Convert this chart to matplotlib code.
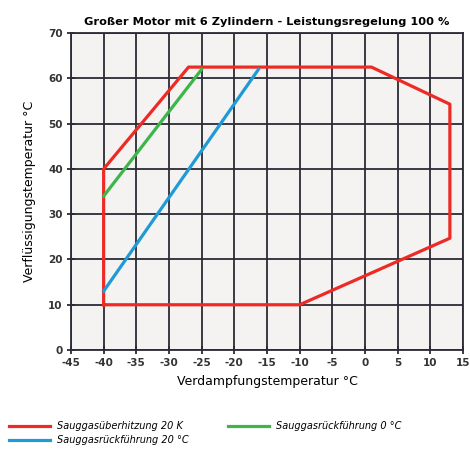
import matplotlib.pyplot as plt

# Einsatzgrenzen (Verdampfung, Verflüssigung) in °C
sh20_x = [-40, -40, -27, 1, 13, 13, -10, -40]
sh20_y = [10, 40, 62.5, 62.5, 54.3, 24.7, 10, 10]
rg0_x = [-40, -25]
rg0_y = [34, 62]
rg20_x = [-40, -16.3]
rg20_y = [13, 62]

xticks = list(range(-45, 16, 5))
yticks = list(range(0, 71, 10))

plt.rcParams['font.family'] = ['DejaVu Sans']
plt.rcParams['axes.unicode_minus'] = False

fig = plt.figure(figsize=(4.7, 4.54), dpi=100)
ax = fig.add_axes([0.151, 0.229, 0.834, 0.698])
ax.set_facecolor('#f4f3f2')

ax.plot(sh20_x, sh20_y, color='#ee2a24', lw=2.3, label='Sauggasüberhitzung 20 K', zorder=3)
ax.plot(rg20_x, rg20_y, color='#1f9ad6', lw=2.3, label='Sauggasrückführung 20 °C', zorder=3)
ax.plot(rg0_x, rg0_y, color='#3db54a', lw=2.3, label='Sauggasrückführung 0 °C', zorder=3)

ax.set_xlim(-45, 15)
ax.set_ylim(0, 70)
ax.set_xticks(xticks)
ax.set_yticks(yticks)
ax.grid(True, color='#2b2b35', lw=1.3)
for s in ax.spines.values():
    s.set_color('#2b2b35')
    s.set_linewidth(1.3)
ax.tick_params(direction='inout', length=6, width=1.3, color='#2b2b35',
               labelsize=7.5, pad=3)
for lab in ax.get_xticklabels() + ax.get_yticklabels():
    lab.set_fontweight('bold')
    lab.set_color('#333333')

ax.set_title('Großer Motor mit 6 Zylindern - Leistungsregelung 100 %',
             fontsize=8.2, fontweight='bold', pad=6)
ax.set_xlabel('Verdampfungstemperatur °C', fontsize=9, labelpad=5)
ax.set_ylabel('Verflüssigungstemperatur °C', fontsize=9, labelpad=9)

fig.legend(loc='lower left', bbox_to_anchor=(0.0, 0.0), ncol=2, frameon=False,
           prop={'style': 'italic', 'size': 7}, handlelength=4.2,
           columnspacing=4.0, labelspacing=0.4)

fig.savefig('out.png', dpi=100)
